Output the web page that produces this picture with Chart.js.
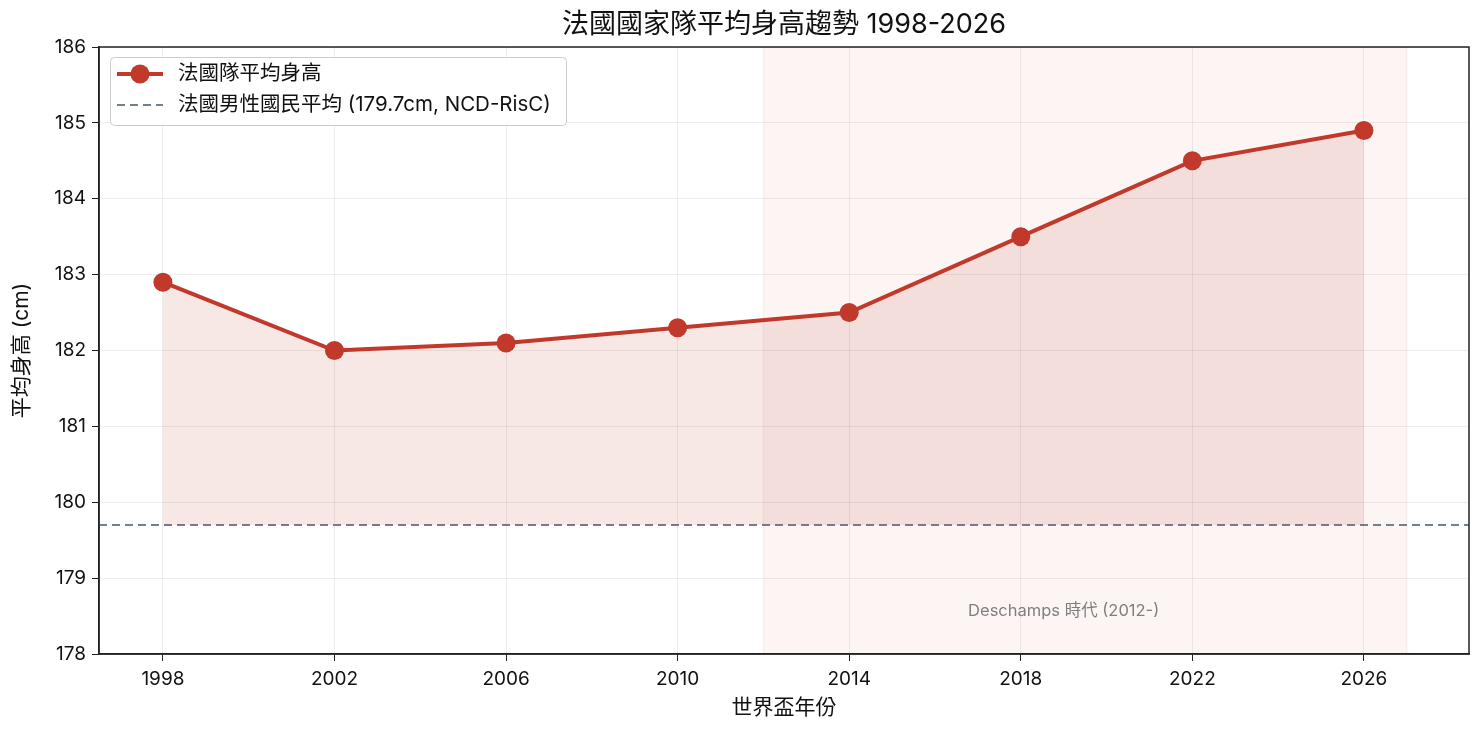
<!DOCTYPE html>
<html>
<head>
<meta charset="utf-8">
<script src="https://cdn.jsdelivr.net/npm/chart.js@4.4.1/dist/chart.umd.min.js"></script>
<style>
  html, body { margin: 0; padding: 0; background: #fff; }
  #wrap { width: 1484px; height: 734px; }
</style>
</head>
<body>
<div id="wrap"><canvas id="heightChart" width="1484" height="734"></canvas></div>
<script>
const years = [1998, 2002, 2006, 2010, 2014, 2018, 2022, 2026];
const avgHeight = [182.9, 182.0, 182.1, 182.3, 182.5, 183.5, 184.5, 184.9];
const nationalAvg = 179.7;
const eraStart = 2012;
const eraEnd = 2027;
const xTicks = [1998, 2002, 2006, 2010, 2014, 2018, 2022, 2026];
const yTicks = [178, 179, 180, 181, 182, 183, 184, 185, 186];

const chartTitle = '法國國家隊平均身高趨勢 1998-2026';
const lineLabel = '法國隊平均身高';
const refLabel = '法國男性國民平均 (179.7cm, NCD-RisC)';
const eraLabel = 'Deschamps 時代 (2012-)';

const FONT = "Inter, 'Noto Sans CJK TC', sans-serif";
const RED = '#c0392b';
const SLATE = '#708090';
const X_MIN = 1996.51, X_MAX = 2028.45;

// span + annotation + frame + title + legend, drawn by hand
const decorPlugin = {
    id: 'decor',
    beforeDatasetsDraw(chart) {
        const { ctx, chartArea, scales } = chart;
        const x0 = scales.x.getPixelForValue(eraStart);
        const x1 = scales.x.getPixelForValue(eraEnd);
        ctx.save();
        ctx.fillStyle = 'rgba(192, 57, 43, 0.05)';
        ctx.fillRect(x0, chartArea.top, x1 - x0, chartArea.bottom - chartArea.top);
        ctx.strokeStyle = 'rgba(192, 57, 43, 0.06)';
        ctx.lineWidth = 1.5;
        ctx.beginPath();
        ctx.moveTo(x0, chartArea.top); ctx.lineTo(x0, chartArea.bottom);
        ctx.moveTo(x1, chartArea.top); ctx.lineTo(x1, chartArea.bottom);
        ctx.stroke();

        ctx.fillStyle = '#7f7f7f';
        ctx.font = '16.5px ' + FONT;
        ctx.textAlign = 'center';
        ctx.textBaseline = 'middle';
        ctx.fillText(eraLabel, scales.x.getPixelForValue(2019.0), scales.y.getPixelForValue(178.57));
        ctx.restore();
    },
    afterDraw(chart) {
        const { ctx, chartArea } = chart;
        ctx.save();
        // frame
        ctx.strokeStyle = '#222';
        ctx.lineWidth = 1.5;
        ctx.strokeRect(chartArea.left, chartArea.top, chartArea.right - chartArea.left, chartArea.bottom - chartArea.top);

        // title
        ctx.fillStyle = '#111';
        ctx.font = '27px ' + FONT;
        ctx.textAlign = 'center';
        ctx.textBaseline = 'middle';
        ctx.fillText(chartTitle, (chartArea.left + chartArea.right) / 2, 25);

        // legend
        const lx = 110, ly = 57, lw = 456, lh = 68;
        ctx.fillStyle = 'rgba(255,255,255,0.85)';
        ctx.strokeStyle = '#cccccc';
        ctx.lineWidth = 1;
        ctx.beginPath();
        ctx.roundRect(lx + 0.5, ly + 0.5, lw, lh, 4);
        ctx.fill();
        ctx.stroke();

        ctx.strokeStyle = RED;
        ctx.lineWidth = 4;
        ctx.beginPath();
        ctx.moveTo(117, 74); ctx.lineTo(163, 74);
        ctx.stroke();
        ctx.fillStyle = RED;
        ctx.beginPath();
        ctx.arc(140, 74, 9.5, 0, Math.PI * 2);
        ctx.fill();

        ctx.strokeStyle = SLATE;
        ctx.lineWidth = 2;
        ctx.setLineDash([8, 5]);
        ctx.beginPath();
        ctx.moveTo(117, 105); ctx.lineTo(163, 105);
        ctx.stroke();
        ctx.setLineDash([]);

        ctx.fillStyle = '#111';
        ctx.font = '20.5px ' + FONT;
        ctx.textAlign = 'left';
        ctx.textBaseline = 'middle';
        ctx.fillText(lineLabel, 178, 74);
        ctx.fillText(refLabel, 178, 105);
        ctx.restore();
    }
};

const ctx = document.getElementById('heightChart').getContext('2d');

new Chart(ctx, {
    type: 'line',
    data: {
        datasets: [
            {
                label: lineLabel,
                data: years.map((y, i) => ({ x: y, y: avgHeight[i] })),
                borderColor: RED,
                backgroundColor: 'rgba(192, 57, 43, 0.12)',
                borderWidth: 4,
                pointRadius: 9.5,
                pointBackgroundColor: RED,
                pointBorderColor: RED,
                pointBorderWidth: 0,
                fill: { value: nationalAvg },
                tension: 0
            },
            {
                label: refLabel,
                data: [{ x: X_MIN, y: nationalAvg }, { x: X_MAX, y: nationalAvg }],
                borderColor: SLATE,
                borderWidth: 2,
                borderDash: [8, 5],
                pointRadius: 0,
                fill: false
            }
        ]
    },
    options: {
        responsive: false,
        animation: false,
        layout: {
            padding: { top: 47, right: 15, left: 0, bottom: 0 }
        },
        scales: {
            x: {
                type: 'linear',
                min: X_MIN,
                max: X_MAX,
                afterBuildTicks: scale => { scale.ticks = xTicks.map(v => ({ value: v })); },
                afterFit: scale => { scale.height = 80; },
                ticks: {
                    color: '#111',
                    font: { family: FONT, size: 19 },
                    padding: 7,
                    maxRotation: 0,
                    callback: v => String(v)
                },
                grid: {
                    color: 'rgba(0,0,0,0.07)',
                    tickColor: '#222',
                    tickLength: 7
                },
                border: { color: '#222', width: 1.5 },
                title: {
                    display: true,
                    text: '世界盃年份',
                    color: '#111',
                    font: { family: FONT, size: 21 },
                    padding: { top: 4, bottom: 14 }
                }
            },
            y: {
                min: 178,
                max: 186,
                afterBuildTicks: scale => { scale.ticks = yTicks.map(v => ({ value: v })); },
                afterFit: scale => { scale.width = 99; },
                ticks: {
                    color: '#111',
                    font: { family: FONT, size: 19 },
                    padding: 6,
                    callback: v => String(v)
                },
                grid: {
                    color: 'rgba(0,0,0,0.07)',
                    tickColor: '#222',
                    tickLength: 7
                },
                border: { color: '#222', width: 1.5 },
                title: {
                    display: true,
                    text: '平均身高 (cm)',
                    color: '#111',
                    font: { family: FONT, size: 21 },
                    padding: { top: 9, bottom: 4 }
                }
            }
        },
        plugins: {
            legend: { display: false },
            tooltip: { enabled: false }
        }
    },
    plugins: [decorPlugin]
});
</script>
</body>
</html>
